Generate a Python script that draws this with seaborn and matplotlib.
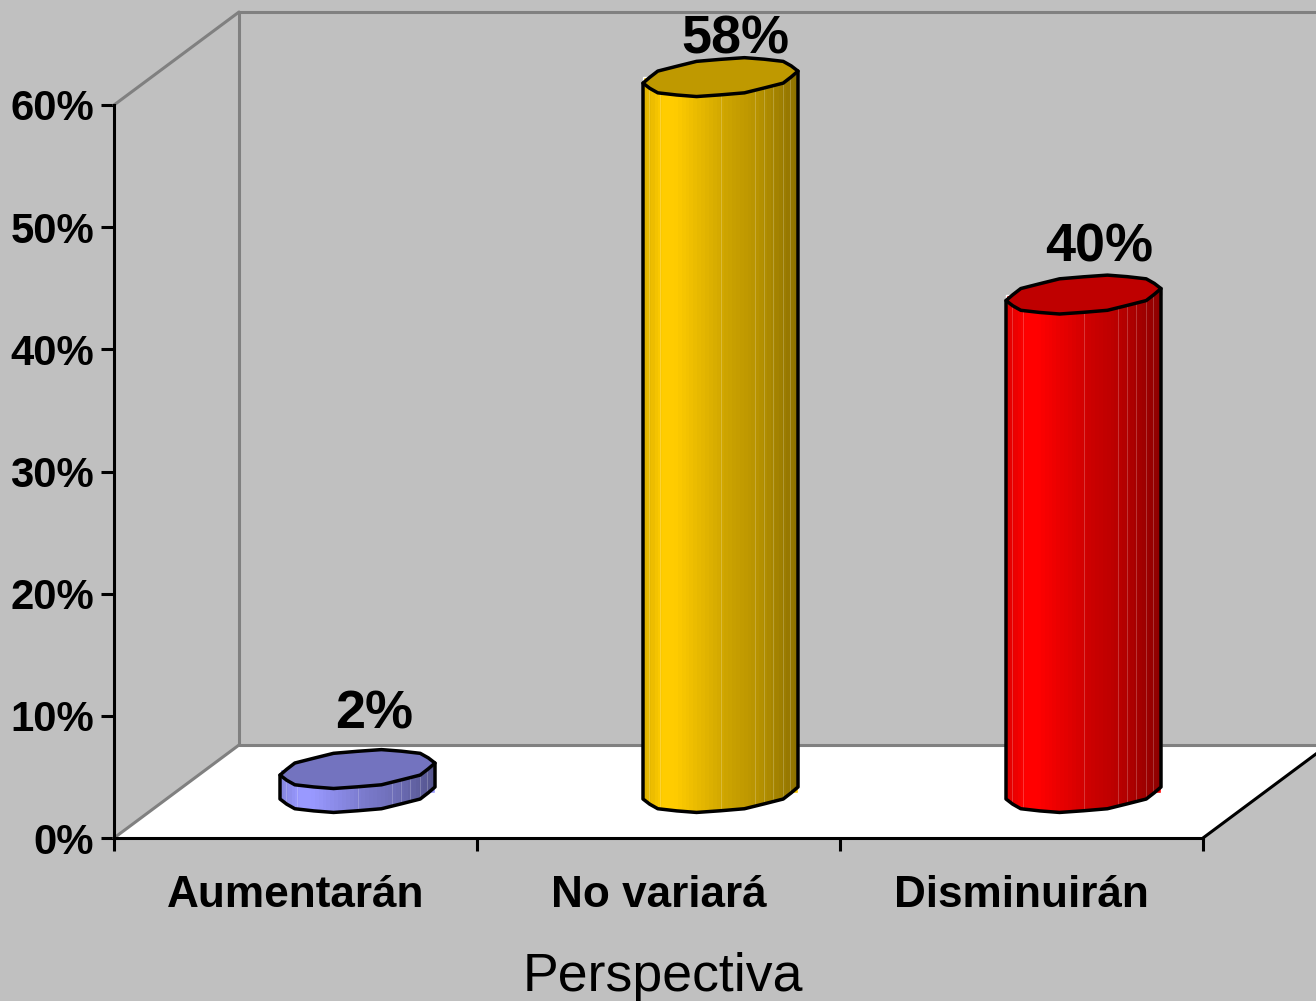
import numpy as np
import pandas as pd
import matplotlib
matplotlib.use('Agg')
import matplotlib.pyplot as plt
import seaborn as sns
from matplotlib.patches import Polygon
from matplotlib.transforms import Affine2D

# ---- data ----
categories = ['Aumentarán', 'No variará', 'Disminuirán']
values = [1.96, 58.6, 40.8]          # altura
value_labels = ['2%', '58%', '40%']
bar_colors = ['#9999FF', '#FFCC00', '#FF0000']
y_ticks = [0, 10, 20, 30, 40, 50, 60]
y_tick_labels = ['0%', '10%', '20%', '30%', '40%', '50%', '60%']
x_title = 'Perspectiva'

# ---- layout (pixels of the 1316x1001 picture) ----
BG = '#C0C0C0'
WALL = '#808080'
LEFT, RIGHT, BOTTOM, TOP = 114, 1203, 838, 105
PX_X = 3 / (RIGHT - LEFT)            # category units per pixel
PX_Y = 60 / (BOTTOM - TOP)           # percent per pixel
DEPTH_X, DEPTH_Y = 125 * PX_X, 93 * PX_Y
MID_X, MID_Y = 62 * PX_X, 45 * PX_Y  # cylinders stand mid depth
CAP_A, CAP_B, CAP_S = 77.5 * PX_X, 18.5 * PX_Y, 6 * PX_Y
LABEL_RISE = [55, 38, 47]
LABEL_SHIFT = [17, 15, 16]
LW = 2.2
CYL_LW = 2.5

sns.set_style('white')
plt.rcParams['font.family'] = ['Liberation Sans', 'DejaVu Sans']
plt.rcParams['text.color'] = 'black'
plt.rcParams['xtick.labelcolor'] = 'black'
plt.rcParams['ytick.labelcolor'] = 'black'
plt.rcParams['axes.labelcolor'] = 'black'

fig = plt.figure(figsize=(13.16, 10.01), dpi=100, facecolor=BG)
ax = fig.add_axes([LEFT / 1316, (1001 - BOTTOM) / 1001,
                   (RIGHT - LEFT) / 1316, (BOTTOM - TOP) / 1001])
ax.patch.set_visible(False)

df = pd.DataFrame({'categoria': categories, 'valor': values})
sns.barplot(data=df, x='categoria', y='valor', hue='categoria', order=categories,
            hue_order=categories, palette=bar_colors, width=2 * CAP_A,
            legend=False, saturation=1, ax=ax, zorder=3)
ax.set_xlim(-0.5, 2.5)
ax.set_ylim(0, 60)
x0, x1 = ax.get_xlim()

# floor and walls
ax.add_patch(Polygon([(x0, 0), (x1, 0), (x1 + DEPTH_X, DEPTH_Y), (x0 + DEPTH_X, DEPTH_Y)],
                     closed=True, fc='white', ec='none', zorder=1, clip_on=False))
wall = dict(color=WALL, lw=LW, zorder=2, clip_on=False, solid_capstyle='round')
ax.plot([x0, x0 + DEPTH_X], [60, 60 + DEPTH_Y], **wall)
ax.plot([x0, x0 + DEPTH_X], [0, DEPTH_Y], **wall)
ax.plot([x0 + DEPTH_X, x0 + DEPTH_X], [DEPTH_Y, 60 + DEPTH_Y], **wall)
ax.plot([x0 + DEPTH_X, x1 + DEPTH_X], [60 + DEPTH_Y, 60 + DEPTH_Y], **wall)
ax.plot([x0 + DEPTH_X, x1 + DEPTH_X], [DEPTH_Y, DEPTH_Y], **wall)
ax.plot([x1, x1 + DEPTH_X], [0, DEPTH_Y], color='black', lw=LW, zorder=2, clip_on=False)


def cap_outline(cx, cy, theta):
    # tilted, faceted ellipse like the old Excel cylinder
    r = np.where(np.arange(len(theta)) % 2 == 0, 1.0, 0.96)
    return np.column_stack([cx + CAP_A * r * np.cos(theta),
                            cy + CAP_B * r * np.sin(theta) + CAP_S * np.cos(theta)])


# shading across the cylinder
frac = np.linspace(0, 1, 40)
shade = np.interp(frac, [0, 0.12, 0.2, 0.55, 0.75, 1], [0.88, 1, 1, 0.80, 0.72, 0.56])
facets = [0.04, 0.11, 0.5, 0.72, 0.78, 0.84, 0.9, 0.95]

for i, (bar, val, col) in enumerate(zip(ax.patches[:3], values, bar_colors)):
    # seaborn's bar, moved back to mid depth
    bar.set_transform(Affine2D().translate(MID_X, MID_Y) + ax.transData)
    bar.set_clip_on(False)
    cx = bar.get_x() + bar.get_width() / 2 + MID_X
    base_y, top_y = MID_Y, val + MID_Y

    lower = cap_outline(cx, base_y, np.linspace(np.pi, 2 * np.pi, 11))
    body = np.vstack([lower, [[cx + CAP_A, top_y + CAP_S], [cx - CAP_A, top_y - CAP_S]]])
    clip = Polygon(body, closed=True, fc='none', ec='none', transform=ax.transData, clip_on=False)
    ax.add_patch(clip)

    rgb = np.array(matplotlib.colors.to_rgb(col))
    grad = (shade[:, None] * rgb)[None, :, :]
    im = ax.imshow(grad, extent=[cx - CAP_A, cx + CAP_A, base_y - 2 * CAP_B, top_y + 2 * CAP_B],
                   aspect='auto', interpolation='nearest', zorder=4)
    im.set_clip_path(clip)
    im.set_clip_box(fig.bbox)

    for f in facets:
        fx = cx - CAP_A + f * 2 * CAP_A
        ln, = ax.plot([fx, fx], [base_y - 2 * CAP_B, top_y + 2 * CAP_B], color='white',
                      lw=0.7, alpha=0.22, zorder=5)
        ln.set_clip_path(clip)
        ln.set_clip_box(fig.bbox)

    ax.plot(np.r_[cx - CAP_A, lower[:, 0], cx + CAP_A],
            np.r_[top_y - CAP_S, lower[:, 1], top_y + CAP_S],
            color='black', lw=CYL_LW, zorder=6, clip_on=False, solid_joinstyle='round')

    theta = np.linspace(0, 2 * np.pi, 21)[:-1]
    ax.add_patch(Polygon(cap_outline(cx, top_y, theta), closed=True, fc=rgb * 0.75, ec='black',
                         lw=CYL_LW, zorder=7, clip_on=False, joinstyle='round'))

    ax.annotate(value_labels[i], xy=(i, val),
                xytext=((62 + LABEL_SHIFT[i]) * 0.72, (45 + LABEL_RISE[i]) * 0.72),
                textcoords='offset points', ha='center', va='center', fontsize=38.9,
                fontweight='bold', color='black', zorder=8, annotation_clip=False)

ax.set_xlim(x0, x1)
ax.set_ylim(0, 60)

# axes
sns.despine(ax=ax, top=True, right=True)
for side in ['left', 'bottom']:
    ax.spines[side].set_linewidth(LW)
    ax.spines[side].set_color('black')
ax.set_yticks(y_ticks)
ax.set_yticklabels(y_tick_labels, fontsize=30.2, fontweight='bold', color='black')
ax.tick_params(axis='y', length=9.4, width=LW, color='black', pad=5, left=True)
ax.set_xticks(range(3))
ax.set_xticklabels(categories, fontsize=31.8, fontweight='bold', color='black')
ax.set_xticks([-0.5, 0.5, 1.5, 2.5], minor=True)
ax.tick_params(axis='x', which='major', length=0, pad=26.8)
ax.tick_params(axis='x', which='minor', length=9.4, width=LW, color='black', bottom=True)
ax.set_ylabel('')
ax.set_xlabel(x_title, fontsize=38.6, fontweight='normal', labelpad=25.5, color='black', x=0.5037)

fig.savefig('out.png', dpi=100, facecolor=BG)
